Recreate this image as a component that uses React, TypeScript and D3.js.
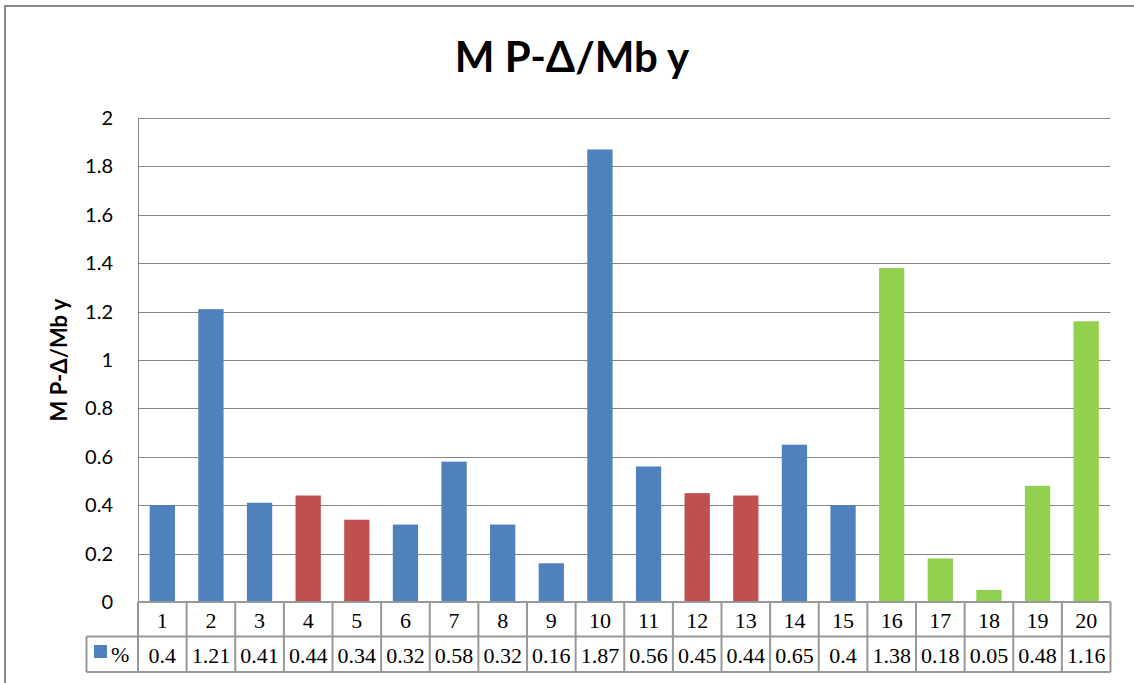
import React from "react";
import * as d3 from "d3";

const categories = ["1","2","3","4","5","6","7","8","9","10","11","12","13","14","15","16","17","18","19","20"];
const values = [0.4,1.21,0.41,0.44,0.34,0.32,0.58,0.32,0.16,1.87,0.56,0.45,0.44,0.65,0.4,1.38,0.18,0.05,0.48,1.16];
const groups = ["b","b","b","r","r","b","b","b","b","b","b","r","r","b","b","g","g","g","g","g"];
const yTicks = [0,0.2,0.4,0.6,0.8,1,1.2,1.4,1.6,1.8,2];
const titleText = "M P-Δ/Mb y";
const seriesName = "%";

const colorMap: Record<string, string> = { b: "#4F81BD", r: "#C0504D", g: "#92D050" };

export default function App() {
  const W = 1134, H = 683;
  const left = 138, right = 1110.5, top = 118, bottom = 602;
  const row1 = 636.5, row2 = 672;
  const legendLeft = 86.5;
  const x = d3.scaleBand<string>().domain(categories).range([left, right]).paddingInner(0.48).paddingOuter(0.24);
  const xc = d3.scaleBand<string>().domain(categories).range([left, right]);
  const y = d3.scaleLinear().domain([0, 2]).range([bottom, top]);
  const grid = "#868686";
  const tbl = "#989898";
  const fmt = (v: number) => String(v);
  return (
    <svg width={W} height={H} style={{ position: "absolute", left: 0, top: 0, background: "#fff" }}>
      <rect x={5} y={6} width={1200} height={800} fill="#fff" stroke="#8a8a8a" strokeWidth={2} />
      <text x={572} y={72} textAnchor="middle" fontFamily="Lato, 'Open Sans', sans-serif" fontWeight="bold" fontSize={42} fill="#000">{titleText}</text>
      {yTicks.map((t) => (
        <g key={t}>
          <line x1={left} x2={right} y1={Math.round(y(t)) + 0.5} y2={Math.round(y(t)) + 0.5} stroke={grid} strokeWidth={1} />
          <text x={113} y={y(t) + 7} textAnchor="end" fontFamily="Lato, 'Open Sans', sans-serif" fontSize={20} fill="#000">{fmt(t)}</text>
        </g>
      ))}
      <line x1={left + 0.5} x2={left + 0.5} y1={top} y2={row2} stroke={grid} />
      {values.map((v, i) => (
        <rect key={i} x={x(categories[i])} y={y(v)} width={x.bandwidth()} height={bottom - y(v)} fill={colorMap[groups[i]]} />
      ))}
      <text transform={`translate(67, 360) rotate(-90)`} textAnchor="middle" fontFamily="Lato, 'Open Sans', sans-serif" fontWeight="bold" fontSize={22} fill="#000">{titleText}</text>
      {/* data table */}
      <g stroke={tbl} strokeWidth={2} fill="none">
        <line x1={left} x2={right} y1={bottom} y2={bottom} />
        <line x1={legendLeft} x2={right} y1={row1} y2={row1} />
        <line x1={legendLeft} x2={right} y1={row2} y2={row2} />
        <line x1={legendLeft} x2={legendLeft} y1={row1} y2={row2} />
        {categories.map((c) => (
          <line key={c} x1={(xc(c) as number) + xc.bandwidth()} x2={(xc(c) as number) + xc.bandwidth()} y1={bottom} y2={row2} />
        ))}
        <line x1={left} x2={left} y1={bottom} y2={row2} />
      </g>
      {categories.map((c, i) => (
        <g key={c} fontFamily="'Liberation Serif', 'Times New Roman', serif" fontSize={22} fill="#000" textAnchor="middle">
          <text x={(xc(c) as number) + xc.bandwidth() / 2} y={row1 - 9}>{c}</text>
          <text x={(xc(c) as number) + xc.bandwidth() / 2} y={row2 - 9}>{values[i]}</text>
        </g>
      ))}
      <rect x={94} y={645} width={13} height={13} fill="#4F81BD" />
      <text x={111} y={row2 - 10} fontFamily="'Liberation Serif', 'Times New Roman', serif" fontSize={22} fill="#000">{seriesName}</text>
    </svg>
  );
}
